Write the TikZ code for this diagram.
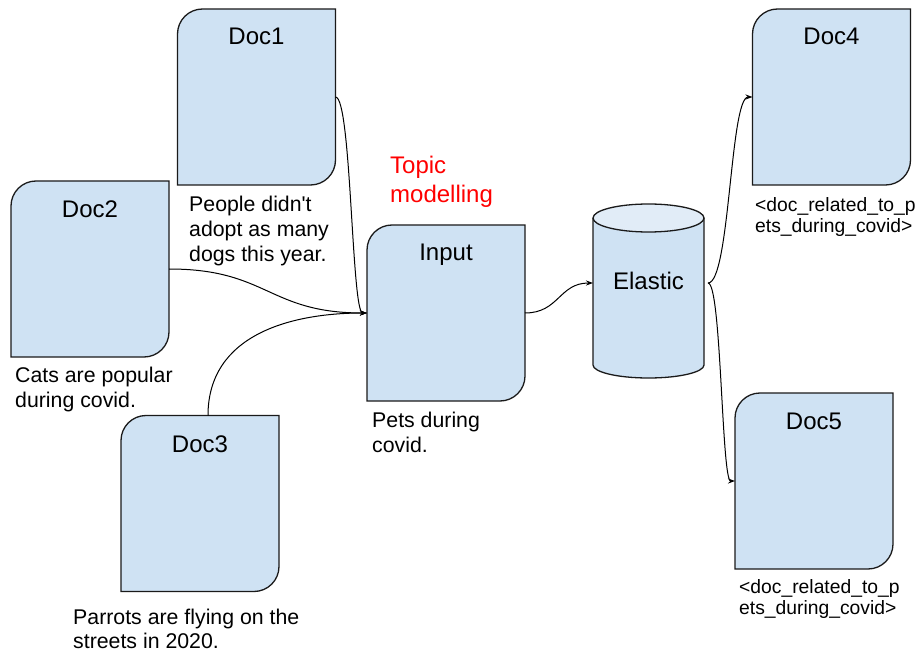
\documentclass[tikz,border=0pt]{standalone}
\usepackage{fontspec}
\setmainfont{Liberation Sans}[Ligatures=TeXOff]
\usetikzlibrary{arrows.meta,calc}
\definecolor{boxblue}{HTML}{CFE2F3}
\definecolor{topblue}{HTML}{E1ECF7}
\definecolor{edgecol}{HTML}{1A1A1A}
\newcommand{\mlines}[1]{\vtop{\halign{##\hfil\cr#1\crcr}}}
\newcommand{\roundbox}[1]{\draw[boxline] (#1.south west) -- ([yshift=-25pt]#1.north west) arc[start angle=180,end angle=90,radius=25pt] -- (#1.north east) -- ([yshift=25pt]#1.south east) arc[start angle=0,end angle=-90,radius=25pt] -- cycle;}
\tikzset{
  docbox/.style={rectangle, minimum width=158pt, minimum height=176pt, inner sep=0pt, outer sep=0pt},
  boxline/.style={draw=edgecol, line width=1.3pt, fill=boxblue},
  doctitle/.style={font=\fontsize{24}{29}\selectfont, anchor=base, inner sep=0pt},
  bodytext/.style={font=\fontsize{21.3}{25}\selectfont, anchor=base west, inner sep=0pt},
  smalltext/.style={font=\fontsize{19.3}{21}\selectfont, anchor=base west, inner sep=0pt},
  conn/.style={draw=black, line width=1pt, -{Stealth[length=7pt,width=5pt]}},
}
\begin{document}
\begin{tikzpicture}[x=1pt,y=-1pt]
\useasboundingbox (0,0) rectangle (921,652);

% document boxes
\node[docbox] (d1) at (256.5,97) {};
\node[docbox] (d2) at (90,269) {};
\node[docbox] (d3) at (200,503.5) {};
\node[docbox] (d4) at (831.5,97) {};
\node[docbox] (d5) at (814,481) {};
\node[docbox] (in) at (446,313) {};
\roundbox{d1}
\roundbox{d2}
\roundbox{d3}
\roundbox{d4}
\roundbox{d5}
\roundbox{in}

\node[doctitle] (d1t) at (256.5,45) {Doc1};
\node[doctitle] (d2t) at (90,218) {Doc2};
\node[doctitle] (d3t) at (200,452) {Doc3};
\node[doctitle] (d4t) at (831.5,45) {Doc4};
\node[doctitle] (d5t) at (814,429) {Doc5};
\node[doctitle] (int) at (446,261) {Input};

% cylinder
\draw[boxline] (593,218) -- (593,365) arc[start angle=180,end angle=360,x radius=55.5pt,y radius=13pt] -- (704,218);
\draw[boxline, fill=topblue] (648.5,218) ellipse [x radius=55.5pt, y radius=14pt];
\node[inner sep=0pt, minimum width=111pt, minimum height=174pt] (el) at (648.5,291) {};
\node[doctitle] (elt) at (648.5,290) {Elastic};
\coordinate (elin) at (593,283);
\coordinate (elout) at (708,283);

% connectors
\draw[conn] (d1.east) .. controls (351.5,97) and (351.5,313) .. (in.west);
\draw[conn] (d2.east) .. controls (268,269) and (268,313) .. (in.west);
\draw[conn] ([xshift=8pt]d3.north) .. controls (208,335) and (290,313) .. (in.west);
\draw[conn] (in.east) .. controls (559,313) and (559,283) .. (elin);
\draw[conn] (elout) .. controls (730,283) and (730,97) .. (d4.west);
\draw[conn] (elout) .. controls (721.5,283) and (721.5,481) .. (d5.west);

% texts
\node[bodytext] (t1) at (189,212) {\mlines{People didn't\cr adopt as many\cr dogs this year.}};
\node[bodytext] (t2) at (15,382) {\mlines{Cats are popular\cr during covid.}};
\node[bodytext] (t3) at (372,427) {\mlines{Pets during\cr covid.}};
\node[bodytext, font=\fontsize{21.3}{24}\selectfont] (t4) at (73,624) {\mlines{Parrots are flying on the\cr streets in 2020.}};
\node[doctitle, anchor=base west, text=red] (tm) at (390,174) {\mlines{Topic\cr modelling}};
\node[smalltext] (t5) at (755,212) {\mlines{<doc\_related\_to\_p\cr ets\_during\_covid>}};
\node[smalltext] (t6) at (739,593) {\mlines{<doc\_related\_to\_p\cr ets\_during\_covid>}};
\end{tikzpicture}
\end{document}
